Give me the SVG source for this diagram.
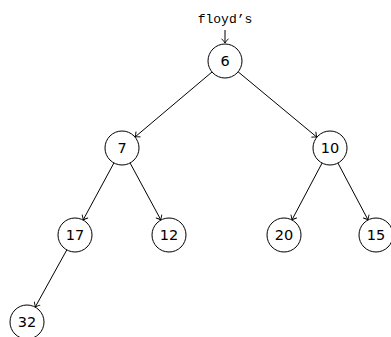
<svg xmlns="http://www.w3.org/2000/svg" width="391" height="337" viewBox="0 0 391 337">
<style>
.n circle{fill:#fff;stroke:#000;stroke-width:1}
.n text{font-family:"DejaVu Sans","Liberation Sans",sans-serif;font-size:14.5px;text-anchor:middle;dominant-baseline:central;fill:#000}
.e line{stroke:#000;stroke-width:1;marker-end:url(#arr)}
.lbl{font-family:"Liberation Mono","DejaVu Sans Mono",monospace;font-size:13px;text-anchor:middle;fill:#000}
</style>
<defs>
<marker id="arr" markerUnits="userSpaceOnUse" markerWidth="10" markerHeight="10" viewBox="-6 -5 8 10" refX="0" refY="0" orient="auto" overflow="visible">
<path d="M-4,-3.2 Q-1.5,-0.8 0,0 Q-1.5,0.8 -4,3.2" fill="none" stroke="#000" stroke-width="0.9" stroke-linecap="round"/>
</marker>
</defs>
<rect width="391" height="337" fill="#fff"/>
<g id="edges" class="e">
<line x1="225" y1="30" x2="225" y2="43"/>
<line x1="212" y1="72" x2="135" y2="137"/>
<line x1="238.1" y1="71.8" x2="316.9" y2="137.2"/>
<line x1="113.9" y1="163" x2="83.1" y2="220"/>
<line x1="130.1" y1="163" x2="160.9" y2="220"/>
<line x1="322.1" y1="163" x2="291.9" y2="220"/>
<line x1="337.9" y1="163" x2="368.1" y2="220"/>
<line x1="66.8" y1="249.9" x2="35.2" y2="307.1"/>
</g>
<text id="label-floyds" class="lbl" x="225" y="23">floyd’s</text>
<g id="node-6" class="n"><circle cx="225" cy="61" r="17"/><text x="225" y="61">6</text></g>
<g id="node-7" class="n"><circle cx="122" cy="148" r="17"/><text x="122" y="148">7</text></g>
<g id="node-10" class="n"><circle cx="330" cy="148" r="17"/><text x="330" y="148">10</text></g>
<g id="node-17" class="n"><circle cx="75" cy="235" r="17"/><text x="75" y="235">17</text></g>
<g id="node-12" class="n"><circle cx="169" cy="235" r="17"/><text x="169" y="235">12</text></g>
<g id="node-20" class="n"><circle cx="284" cy="235" r="17"/><text x="284" y="235">20</text></g>
<g id="node-15" class="n"><circle cx="376" cy="235" r="17"/><text x="376" y="235">15</text></g>
<g id="node-32" class="n"><circle cx="27" cy="322" r="17"/><text x="27" y="322">32</text></g>
</svg>
